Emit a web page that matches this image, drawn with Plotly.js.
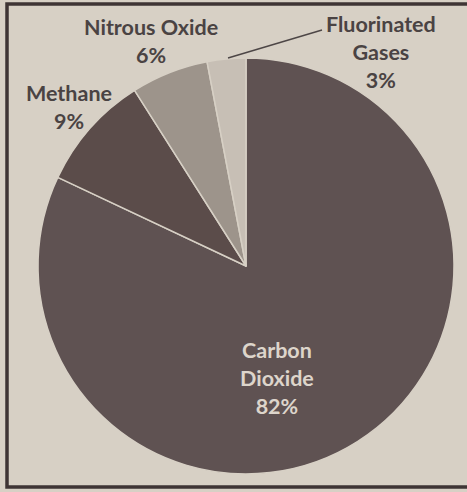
<!DOCTYPE html>
<html>
<head>
<meta charset="utf-8">
<script src="https://cdn.plot.ly/plotly-3.0.1.min.js"></script>
<style>html,body{margin:0;padding:0;background:#d7d0c5;}#chart{width:467px;height:492px;}</style>
</head>
<body>
<div id="chart"></div>
<script>
var gases = ["Carbon Dioxide", "Methane", "Nitrous Oxide", "Fluorinated Gases"];
var shares = [82, 9, 6, 3];
var labelLines = [["Carbon", "Dioxide"], ["Methane"], ["Nitrous Oxide"], ["Fluorinated", "Gases"]];
var sliceColors = ["#5f5252", "#5b4c4a", "#9d948b", "#c7bfb5"];

function labelText(i) {
  return labelLines[i].concat([shares[i] + "%"]).join("<br>");
}

var trace = {
  type: "pie",
  labels: gases,
  values: shares,
  sort: false,
  direction: "clockwise",
  rotation: 0,
  textinfo: "none",
  hoverinfo: "label+percent",
  marker: { colors: sliceColors, line: { color: "#d7d0c5", width: 1.5 } },
  domain: { x: [38 / 467, 454 / 467], y: [18 / 492, 434 / 492] },
  showlegend: false
};

var font = { family: "Lato, 'Open Sans', sans-serif", size: 21.5, color: "#4a4343", weight: 700 };
var annotations = [
  { x: 277 / 467, y: 1 - 378 / 492, text: labelText(0), font: Object.assign({}, font, { color: "#ddd5cb" }) },
  { x: 69 / 467, y: 1 - 107 / 492, text: labelText(1), font: font },
  { x: 151 / 467, y: 1 - 41 / 492, text: labelText(2), font: font },
  { x: 381 / 467, y: 1 - 52 / 492, text: labelText(3), font: font }
].map(function (a) {
  return Object.assign({ xref: "paper", yref: "paper", showarrow: false, xanchor: "center", yanchor: "middle", align: "center" }, a);
});

var layout = {
  width: 467,
  height: 492,
  margin: { l: 0, r: 0, t: 0, b: 0 },
  paper_bgcolor: "#d7d0c5",
  plot_bgcolor: "#d7d0c5",
  annotations: annotations,
  shapes: [
    { type: "rect", xref: "paper", yref: "paper", x0: 7 / 467, x1: 1.02, y0: 1 - 487 / 492, y1: 1 - 4 / 492,
      line: { color: "#3e3434", width: 3.5 } },
    { type: "line", xref: "paper", yref: "paper", x0: 228 / 467, y0: 1 - 58 / 492, x1: 322 / 467, y1: 1 - 30 / 492,
      line: { color: "#4d4646", width: 1.5 } }
  ]
};

Plotly.newPlot("chart", [trace], layout, { displayModeBar: false, staticPlot: true });
</script>
</body>
</html>
